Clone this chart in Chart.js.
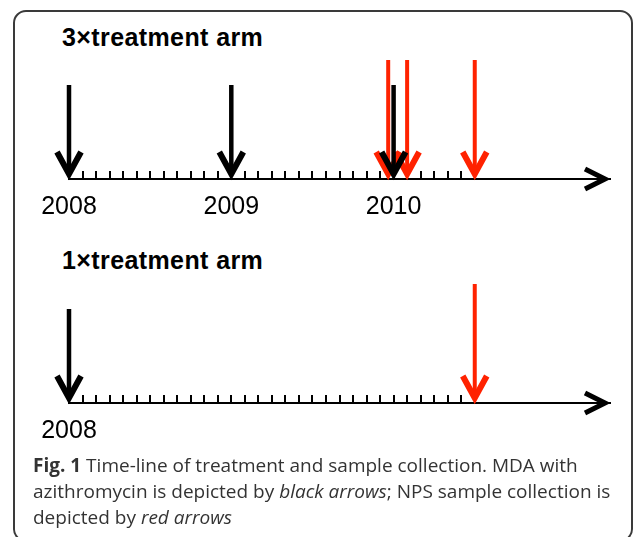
<!DOCTYPE html>
<html>
<head>
<meta charset="utf-8">
<script src="https://cdn.jsdelivr.net/npm/chart.js@4.4.1/dist/chart.umd.min.js"></script>
<style>
    html, body { margin: 0; padding: 0; background: #fff; }
    body { width: 633px; height: 537px; position: relative; overflow: hidden; font-family: "Liberation Sans", Arial, sans-serif; }
    .frame { position: absolute; left: 13px; top: 10px; width: 616px; height: 528px; border: 2px solid #3a3a3a; border-radius: 13px; }
    .arm { position: absolute; left: 0; width: 633px; height: 229px; }
    .arm-title { position: absolute; left: 62px; font-weight: bold; font-size: 25px; line-height: 24px; letter-spacing: 0.4px; color: #000; }
    .caption { position: absolute; left: 33px; top: 452px; width: 595px; font-family: "Open Sans", sans-serif; font-size: 19px; line-height: 26px; color: #333; }
</style>
</head>
<body>
<div class="frame"></div>

<div class="arm-title" style="top:25px">3×treatment arm</div>
<canvas id="arm3" class="arm" width="633" height="229" style="top:0px"></canvas>

<div class="arm-title" style="top:248px">1×treatment arm</div>
<canvas id="arm1" class="arm" width="633" height="229" style="top:224px"></canvas>

<div class="caption"><b>Fig. 1</b> Time-line of treatment and sample collection. MDA with<br>azithromycin is depicted by <i>black arrows</i>; NPS sample collection is<br>depicted by <i>red arrows</i></div>

<script>
// months counted from January 2008
const monthTicks = [1, 2, 3, 4, 5, 6, 7, 8, 9, 10, 11, 12, 13, 14, 15, 16, 17, 18, 19, 20, 21, 22, 23, 24, 25, 26, 27, 28, 29];

const yearTicks3x = [0, 12, 24];
const yearLabels3x = ['2008', '2009', '2010'];
const mda3x = [0, 12, 24];
const nps3x = [23.6, 25, 30];

const yearTicks1x = [0];
const yearLabels1x = ['2008'];
const mda1x = [0];
const nps1x = [30];

const timelinePlugin = {
    id: 'timeline',
    afterDatasetsDraw(chart) {
        const { ctx, chartArea } = chart;
        const x = chart.scales.x;
        const axisY = chartArea.bottom;
        ctx.save();

        // monthly tick marks above the axis
        ctx.strokeStyle = '#000';
        ctx.lineWidth = 2;
        monthTicks.forEach(m => {
            const px = Math.round(x.getPixelForValue(m));
            ctx.beginPath();
            ctx.moveTo(px, axisY);
            ctx.lineTo(px, axisY - 8);
            ctx.stroke();
        });

        // arrow head at the end of the axis
        ctx.lineWidth = 5;
        ctx.lineJoin = 'miter';
        ctx.beginPath();
        ctx.moveTo(chartArea.right - 25, axisY - 10);
        ctx.lineTo(chartArea.right - 5, axisY);
        ctx.lineTo(chartArea.right - 25, axisY + 10);
        ctx.stroke();

        // event arrows
        chart.data.datasets.forEach((ds, i) => {
            chart.getDatasetMeta(i).data.forEach(pt => {
                const tip = pt.y - 5;
                ctx.strokeStyle = ds.arrowColor;
                ctx.lineWidth = ds.arrowWidth;
                ctx.lineCap = 'butt';
                ctx.beginPath();
                ctx.moveTo(pt.x, pt.y - ds.arrowLength);
                ctx.lineTo(pt.x, tip);
                ctx.stroke();

                ctx.lineWidth = 6;
                ctx.beginPath();
                ctx.moveTo(pt.x - 12, tip - 22);
                ctx.lineTo(pt.x, tip);
                ctx.lineTo(pt.x + 12, tip - 22);
                ctx.stroke();
            });
        });
        ctx.restore();
    }
};

function makeArm(id, mda, nps, yearTicks, yearLabels) {
    return new Chart(document.getElementById(id), {
        type: 'scatter',
        data: {
            datasets: [
                { label: 'NPS sample collection', data: nps.map(m => ({ x: m, y: 0 })), arrowColor: '#ff2200', arrowWidth: 4, arrowLength: 119, pointRadius: 0 },
                { label: 'MDA with azithromycin', data: mda.map(m => ({ x: m, y: 0 })), arrowColor: '#000', arrowWidth: 4.5, arrowLength: 94, pointRadius: 0 }
            ]
        },
        options: {
            responsive: false,
            animation: false,
            events: [],
            layout: { padding: { left: 69, right: 23, top: 0, bottom: 0 } },
            plugins: { legend: { display: false }, tooltip: { enabled: false } },
            scales: {
                x: {
                    type: 'linear',
                    min: 0,
                    max: 40,
                    grid: { display: false, drawTicks: false },
                    border: { display: true, color: '#000', width: 2 },
                    afterBuildTicks: s => { s.ticks = yearTicks.map(v => ({ value: v })); },
                    afterFit: s => { s.height = 50; },
                    ticks: {
                        callback: (v, i) => yearLabels[i],
                        font: { family: '"Liberation Sans", Arial, sans-serif', size: 25 },
                        color: '#000',
                        padding: 13,
                        maxRotation: 0,
                        autoSkip: false
                    }
                },
                y: { display: false, min: 0, max: 1 }
            }
        },
        plugins: [timelinePlugin]
    });
}

makeArm('arm3', mda3x, nps3x, yearTicks3x, yearLabels3x);
makeArm('arm1', mda1x, nps1x, yearTicks1x, yearLabels1x);
</script>
</body>
</html>
